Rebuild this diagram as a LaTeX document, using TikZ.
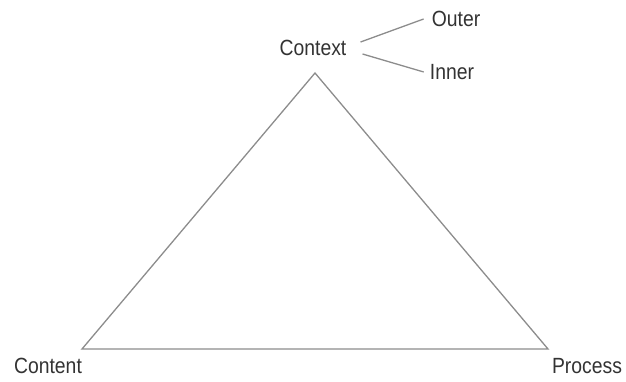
\documentclass[tikz,border=0pt]{standalone}
\usepackage{fontspec}
\setmainfont{Liberation Sans}[FakeStretch=0.88]
\tikzset{
    lbl/.style={inner sep=0pt, text=black!80, font=\fontsize{22}{26}\selectfont},
    link/.style={draw=black!45, line width=1.3pt}
}
\begin{document}
\begin{tikzpicture}[x=1pt, y=-1pt]
        \useasboundingbox (0,0) rectangle (626,381);
        \coordinate (apex) at (315,73);
        \coordinate (left) at (82,349);
        \coordinate (right) at (548,349);
        \draw[link, line join=miter] (left) -- (apex) -- (right) -- cycle;
        \node[lbl] (context) at (313,48) {Context};
        \node[lbl] (outer) at (456,19) {Outer};
        \node[lbl] (inner) at (452,72) {Inner};
        \node[lbl] (content) at (48,366) {Content};
        \node[lbl] (process) at (587,366) {Process};
        \draw[link] ([xshift=14pt, yshift=6pt]context.east) -- ([xshift=-8pt]outer.west);
        \draw[link] ([xshift=16pt, yshift=-6pt]context.east) -- ([xshift=-6pt]inner.west);
    \end{tikzpicture}
\end{document}
